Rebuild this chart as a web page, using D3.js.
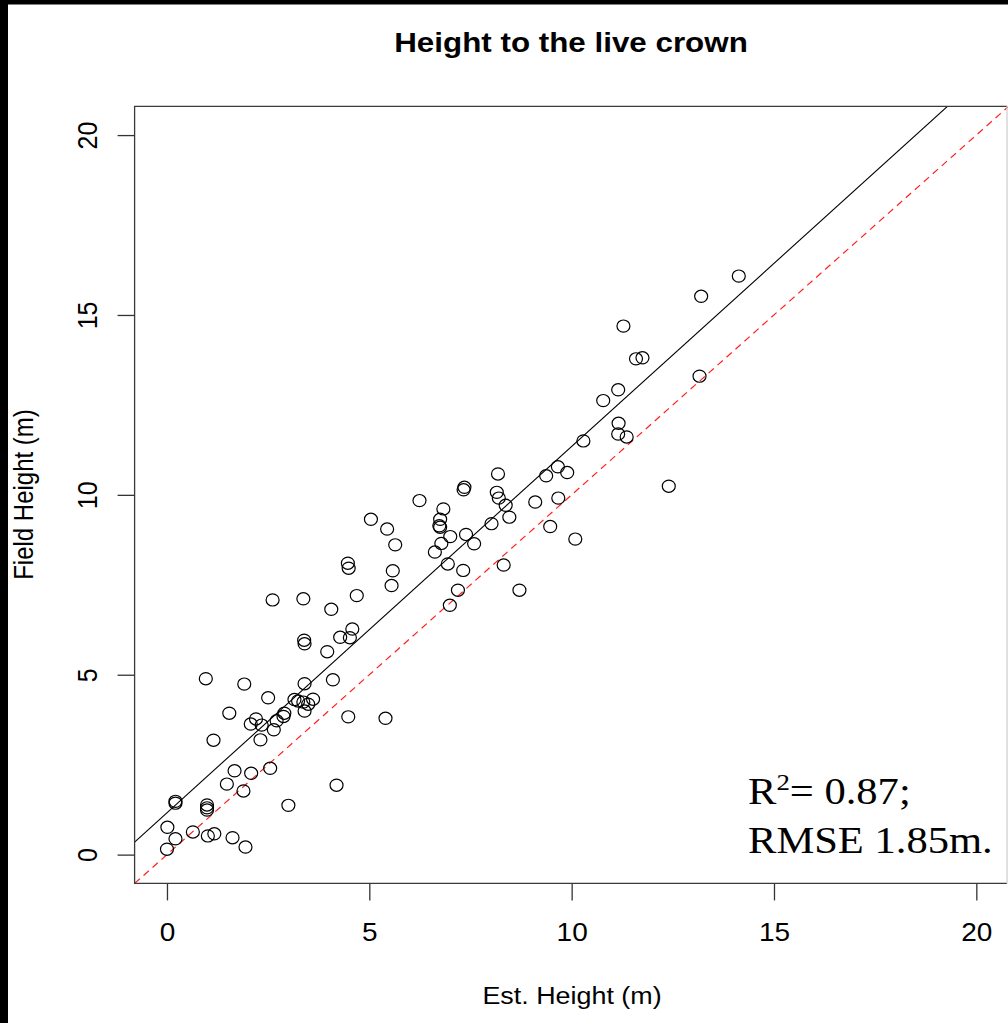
<!DOCTYPE html>
<html>
<head>
<meta charset="utf-8">
<script src="https://cdn.jsdelivr.net/npm/d3@7"></script>
<style>
  body { margin: 0; background: #fff; }
  svg { display: block; }
</style>
</head>
<body>
<div id="my_dataviz"></div>
<script>
var Width = 1008;
var Height = 1023;

// estimated height (x) and field height (y)
var estHeight = [
  2.61, 3.37, 4.69, 4.06, 4.58, 4.28, 4.52, 3.39, 3.40, 3.96,
  0.96, 1.91, 3.40, 4.10, 2.50, 3.15, 3.24, 3.37, 3.49, 3.61,
  3.40, 1.54, 2.20, 2.07, 2.34, 2.71, 2.90, 2.88, 2.64, 2.31,
  1.15, 4.48, 5.40, 2.55, 1.67, 2.08, 1.48, 1.89, 4.19, 3.00,
  0.21, 0.21, 0.99, 0.99, 0.99, 0.01, 0.64, 0.21, 1.01, 1.17,
  1.62, 1.94, 0.00,
  10.29, 9.66, 9.37, 9.89, 8.18, 7.35, 7.33, 9.10, 9.67, 8.15,
  8.20, 8.37, 8.46, 6.24, 6.83, 6.75, 6.73, 6.75, 5.04, 5.44,
  8.02, 9.47, 7.00, 7.39, 7.59, 6.78, 6.62, 5.64, 10.09, 4.47,
  4.49, 5.58, 6.94, 7.32, 8.32, 5.55, 7.19, 8.71, 6.99,
  14.13, 13.20, 11.28, 11.59, 11.75, 13.16, 11.15, 10.78, 11.16, 11.15,
  11.36, 12.40
];
var fieldHeight = [
  7.08, 7.11, 7.20, 6.82, 6.27, 6.04, 6.03, 5.96, 5.86, 5.64,
  4.89, 4.74, 4.75, 4.86, 4.36, 4.31, 4.27, 4.24, 4.18, 4.32,
  3.99, 3.93, 3.77, 3.63, 3.60, 3.72, 3.93, 3.84, 3.47, 3.19,
  3.18, 3.83, 3.79, 2.40, 2.33, 2.26, 1.96, 1.77, 1.93, 1.37,
  1.48, 1.43, 1.38, 1.30, 1.24, 0.76, 0.63, 0.44, 0.52, 0.58,
  0.47, 0.21, 0.15,
  11.50, 10.78, 10.53, 10.62, 10.58, 10.21, 10.14, 9.80, 9.91, 10.07,
  9.91, 9.71, 9.38, 9.84, 9.61, 9.32, 9.14, 9.10, 9.32, 9.05,
  9.20, 9.12, 8.84, 8.90, 8.64, 8.65, 8.41, 8.61, 8.77, 8.10,
  7.96, 7.89, 8.08, 7.90, 8.05, 7.48, 7.35, 7.35, 6.93,
  16.08, 15.52, 14.69, 13.78, 13.81, 13.30, 12.92, 12.62, 11.99, 11.69,
  11.61, 10.24
];
var xTicks = [0, 5, 10, 15, 20];
var yTicks = [0, 5, 10, 15, 20];
var axisDomain = [-0.8, 20.8];
// fitted line: field = intercept + slope * est
var fitIntercept = 1.164;
var fitSlope = 1.018;

var data = estHeight.map(function(d, i) { return {est: d, field: fieldHeight[i]}; });

// the picture is stretched sideways a little
var stretch = "scale(1.12,1)";

var svg = d3.select("#my_dataviz")
  .append("svg")
    .attr("width", Width)
    .attr("height", Height);

svg.append("rect").attr("width", Width).attr("height", Height).attr("fill", "#fff");

var x = d3.scaleLinear().domain(axisDomain).range([134.6, 1008.7]);
var y = d3.scaleLinear().domain(axisDomain).range([883.4, 106.3]);

var boxL = x(axisDomain[0]), boxR = 1007,
    boxT = y(axisDomain[1]), boxB = y(axisDomain[0]);

svg.append("clipPath").attr("id", "plotclip")
  .append("rect")
    .attr("x", boxL).attr("y", boxT)
    .attr("width", x(axisDomain[1]) - boxL)
    .attr("height", boxB - boxT);

var plot = svg.append("g").attr("clip-path", "url(#plotclip)");

// 1:1 line
plot.append("line")
  .attr("x1", x(axisDomain[0])).attr("y1", y(axisDomain[0]))
  .attr("x2", x(axisDomain[1])).attr("y2", y(axisDomain[1]))
  .attr("stroke", "#ff2020")
  .attr("stroke-width", 1.2)
  .attr("stroke-dasharray", "7,5");

// fitted line
plot.append("line")
  .attr("x1", x(axisDomain[0])).attr("y1", y(fitIntercept + fitSlope * axisDomain[0]))
  .attr("x2", x(axisDomain[1])).attr("y2", y(fitIntercept + fitSlope * axisDomain[1]))
  .attr("stroke", "#000")
  .attr("stroke-width", 1.1);

// dots
plot.append("g")
  .selectAll("ellipse")
  .data(data)
  .enter()
  .append("ellipse")
    .attr("cx", function(d) { return x(d.est); })
    .attr("cy", function(d) { return y(d.field); })
    .attr("rx", 6.5)
    .attr("ry", 6.1)
    .attr("fill", "none")
    .attr("stroke", "#000")
    .attr("stroke-width", 1.2);

// box (right side is cut by the screenshot edge, drawn faint)
var box = svg.append("g").attr("stroke-width", 1.3).attr("fill", "none");
box.append("path")
  .attr("d", "M" + boxR + "," + boxT + "H" + boxL + "V" + boxB + "H" + boxR)
  .attr("stroke", "#3a3a3a");
box.append("line")
  .attr("x1", boxR).attr("y1", boxT).attr("x2", boxR).attr("y2", boxB)
  .attr("stroke", "#d0d0d0");

// axes
var xAxis = svg.append("g")
  .attr("transform", "translate(0," + boxB + ")")
  .call(d3.axisBottom(x).tickValues(xTicks).tickSize(17).tickFormat(d3.format("d")));
xAxis.select(".domain").remove();
xAxis.selectAll("line").attr("stroke", "#333").attr("stroke-width", 1.3);
xAxis.selectAll("text")
  .attr("y", 57.6).attr("dy", null)
  .attr("transform", stretch)
  .style("font-family", "'Liberation Sans', Arial, sans-serif")
  .style("font-size", "25px")
  .attr("fill", "#000");

var yAxis = svg.append("g")
  .attr("transform", "translate(" + boxL + ",0)")
  .call(d3.axisLeft(y).tickValues(yTicks).tickSize(17).tickFormat(d3.format("d")));
yAxis.select(".domain").remove();
yAxis.selectAll("line").attr("stroke", "#333").attr("stroke-width", 1.3);
yAxis.selectAll("text")
  .attr("x", 0).attr("dy", null)
  .attr("transform", "translate(-37.6,0) " + stretch + " rotate(-90)")
  .attr("text-anchor", "middle")
  .style("font-family", "'Liberation Sans', Arial, sans-serif")
  .style("font-size", "25px")
  .attr("fill", "#000");

// title and axis labels
svg.append("text")
  .attr("transform", "translate(571,52) " + stretch)
  .attr("text-anchor", "middle")
  .style("font-family", "'Liberation Sans', Arial, sans-serif")
  .style("font-size", "28px")
  .style("font-weight", "bold")
  .text("Height to the live crown");

svg.append("text")
  .attr("transform", "translate(572,1004) " + stretch)
  .attr("text-anchor", "middle")
  .style("font-family", "'Liberation Sans', Arial, sans-serif")
  .style("font-size", "24px")
  .text("Est. Height (m)");

svg.append("text")
  .attr("transform", "translate(33,494.5) " + stretch + " rotate(-90)")
  .attr("text-anchor", "middle")
  .style("font-family", "'Liberation Sans', Arial, sans-serif")
  .style("font-size", "24px")
  .text("Field Height (m)");

// fit statistics
var r2 = svg.append("text")
  .attr("transform", "translate(748,804) " + stretch)
  .style("font-family", "'Liberation Serif', 'Times New Roman', serif")
  .style("font-size", "38px");
r2.append("tspan").text("R");
r2.append("tspan").attr("dy", -14).style("font-size", "24px").text("2");
r2.append("tspan").attr("dy", 14).text("= 0.87;");

svg.append("text")
  .attr("transform", "translate(748,853) " + stretch)
  .style("font-family", "'Liberation Serif', 'Times New Roman', serif")
  .style("font-size", "38px")
  .text("RMSE 1.85m.");

// black frame edges of the screenshot
svg.append("rect").attr("x", 0).attr("y", 0).attr("width", 8).attr("height", Height).attr("fill", "#000");
svg.append("rect").attr("x", 0).attr("y", 0).attr("width", Width).attr("height", 4.5).attr("fill", "#000");
</script>
</body>
</html>
